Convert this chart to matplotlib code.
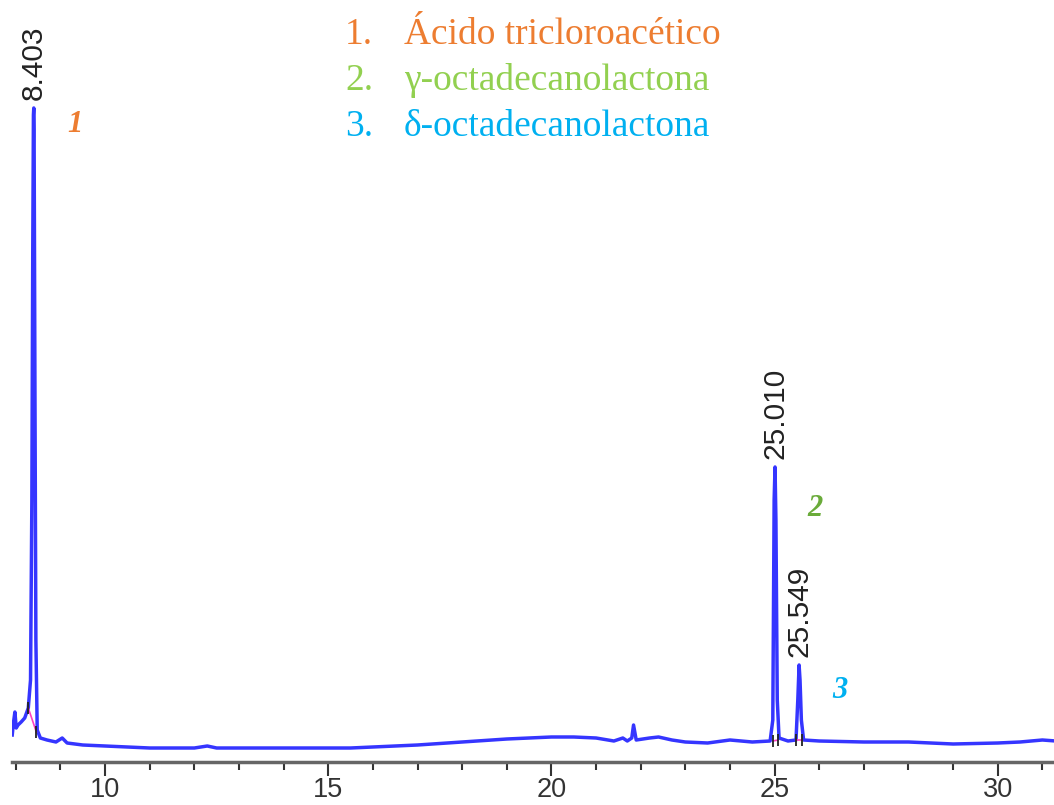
#!/usr/bin/env python3

import matplotlib
matplotlib.use("Agg")
import matplotlib.pyplot as plt
from matplotlib.ticker import MultipleLocator

# retention time (min) and detector signal (arbitrary units)
rt = [7.92, 7.95, 7.98, 8.01, 8.05, 8.12, 8.20, 8.28, 8.33, 8.36, 8.38, 8.395,
      8.403, 8.41, 8.43, 8.45, 8.48, 8.55, 8.70, 8.90, 9.04, 9.15, 9.50, 10.0,
      10.5, 11.0, 12.0, 12.29, 12.5, 13.0, 14.0, 15.0, 15.5, 16.0, 17.0, 18.0,
      19.0, 20.0, 20.5, 21.0, 21.4, 21.6, 21.7, 21.8, 21.84, 21.9, 22.2, 22.4,
      22.7, 23.0, 23.5, 24.0, 24.5, 24.9, 24.96, 24.99, 25.01, 25.03, 25.06,
      25.1, 25.3, 25.48, 25.52, 25.549, 25.57, 25.6, 25.65, 26.0, 27.0, 28.0,
      29.0, 30.0, 30.5, 31.0, 31.3]
signal = [27, 40, 50, 34, 37, 40, 44, 54, 82, 262, 512, 647,
          654, 632, 362, 122, 32, 24, 22, 20, 24, 19, 17, 16,
          15, 14, 14, 16, 14, 14, 14, 14, 14, 15, 17, 20,
          23, 25, 25, 24, 21, 24, 21, 24, 37, 22, 24, 25,
          22, 20, 19, 22, 20, 21, 42, 262, 295, 242, 62,
          24, 21, 22, 62, 97, 82, 42, 22, 21, 20, 20,
          18, 19, 20, 22, 21]

peak_rt = [8.403, 25.010, 25.549]
peak_height = [654, 295, 97]
peak_labels = ["8.403", "25.010", "25.549"]

# integration baselines (start, end) per peak
base_start = [(8.28, 54), (24.96, 21), (25.48, 22)]
base_end = [(8.46, 30), (25.08, 22), (25.62, 22)]

compound_nums = ["1.", "2.", "3."]
compounds = ["Ácido tricloroacético", "γ-octadecanolactona",
             "δ-octadecanolactona"]
compound_colors = ["#ED7D31", "#92D050", "#00B0F0"]
number_colors = ["#ED7D31", "#6AAB3A", "#00B0F0"]

fig = plt.figure(figsize=(10.54, 8.05), dpi=100)
ax = fig.add_axes([12 / 1054, 43 / 805, 1042 / 1054, 762 / 805])

ax.plot(rt, signal, color="#3535ff", lw=2.5, solid_joinstyle="round")
for (x0, y0), (x1, y1) in zip(base_start, base_end):
    ax.plot([x0, x1], [y0, y1], color="#ff40c0", lw=1.2)
    ax.plot([x0, x1], [y0, y1], ls="none", marker="|", ms=9, mew=1.3,
            color="#222222")

for x, h, lab in zip(peak_rt, peak_height, peak_labels):
    ax.annotate(lab, (x, h), xytext=(0, 6), textcoords="offset points",
                rotation=90, ha="center", va="bottom", fontsize=21.5,
                family="Liberation Sans", color="#222222")

ax.set_xlim(7.915, 31.26)
ax.set_ylim(0, 762)
for s in ["top", "left", "right"]:
    ax.spines[s].set_visible(False)
ax.spines["bottom"].set_color("#666666")
ax.spines["bottom"].set_linewidth(2.5)
ax.set_yticks([])
ax.xaxis.set_major_locator(MultipleLocator(5))
ax.xaxis.set_minor_locator(MultipleLocator(1))
ax.tick_params(axis="x", which="major", length=10, width=1.5, pad=1,
               labelsize=19.5, colors="#333333")
ax.tick_params(axis="x", which="minor", length=6, width=1.5, colors="#333333")
for t in ax.get_xticklabels():
    t.set_family("Liberation Sans")

# compound legend
for i, (num, name, c) in enumerate(zip(compound_nums, compounds,
                                         compound_colors)):
    y = 1 - (35 + i * 46) / 805
    fig.text(345 / 1054, y, num, color=c, fontsize=27,
             family="Liberation Serif", va="center", ha="left")
    fig.text(404 / 1054, y, name, color=c, fontsize=27,
             family="Liberation Serif", va="center", ha="left")

# peak numbers
num_pos = [(75, 125), (815, 508), (840, 690)]
for i, ((px, py), c) in enumerate(zip(num_pos, number_colors)):
    fig.text(px / 1054, 1 - py / 805, str(i + 1), color=c, fontsize=22,
             family="Liberation Serif", style="italic", weight="bold",
             ha="center", va="center")

fig.savefig("out.png", dpi=100)
